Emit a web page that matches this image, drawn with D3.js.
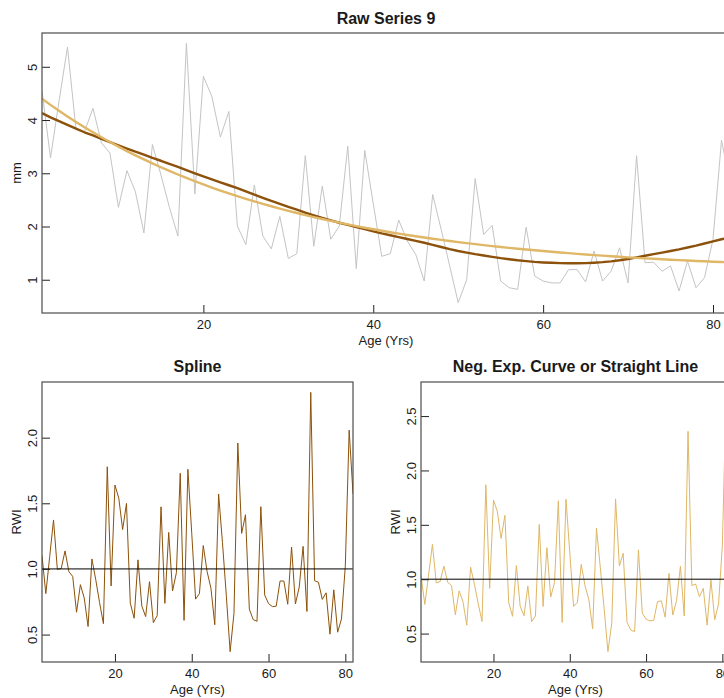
<!DOCTYPE html>
<html>
<head>
<meta charset="utf-8">
<script src="https://cdn.jsdelivr.net/npm/d3@7"></script>
<style>
  html, body { margin: 0; padding: 0; background: #ffffff; }
  svg { display: block; }
  text { font-family: "Liberation Sans", Arial, sans-serif; fill: #1a1a1a; }
</style>
</head>
<body>
<svg id="chart" width="724" height="698"></svg>
<script>
// ---------------- data ----------------
const ages = d3.range(1, 83);

const rawWidth = [4.55,3.29,4.35,5.37,3.83,3.78,4.22,3.57,3.38,2.36,
  3.05,2.65,1.88,3.54,2.97,2.36,1.82,5.44,2.61,4.82,
  4.44,3.68,4.16,2.01,1.66,2.78,1.82,1.58,2.19,1.40,
  1.49,3.33,1.63,2.76,1.76,2.01,3.51,1.21,3.43,2.43,
  1.44,1.49,2.12,1.73,1.475,0.975,2.60,1.94,1.26,0.57,
  1.00,2.90,1.85,2.02,0.975,0.85,0.82,1.99,1.07,0.975,
  0.94,0.94,1.19,1.19,0.96,1.54,0.975,1.16,1.60,0.94,
  3.33,1.32,1.33,1.16,1.26,0.79,1.35,0.85,1.04,1.76,
  3.62,2.83];

const splineCurve = [4.13,4.05,3.98,3.91,3.84,3.77,3.71,3.645,3.585,3.525,
  3.465,3.405,3.35,3.29,3.235,3.175,3.12,3.06,3.00,2.94,
  2.885,2.83,2.775,2.72,2.66,2.60,2.54,2.48,2.425,2.37,
  2.315,2.26,2.21,2.16,2.115,2.07,2.03,1.99,1.95,1.91,
  1.87,1.835,1.80,1.765,1.73,1.695,1.655,1.615,1.575,1.54,
  1.51,1.48,1.455,1.43,1.405,1.385,1.365,1.35,1.335,1.325,
  1.318,1.313,1.31,1.31,1.313,1.32,1.33,1.345,1.365,1.39,
  1.42,1.45,1.48,1.51,1.54,1.57,1.605,1.64,1.68,1.72,
  1.76,1.80];

const negExpCurve = [4.400,4.285,4.174,4.067,3.964,3.865,3.769,3.676,3.587,3.501,
  3.417,3.337,3.260,3.185,3.113,3.044,2.977,2.912,2.850,2.790,
  2.732,2.676,2.622,2.570,2.520,2.471,2.425,2.380,2.336,2.294,
  2.254,2.215,2.177,2.141,2.106,2.072,2.039,2.008,1.977,1.948,
  1.920,1.893,1.867,1.841,1.817,1.793,1.770,1.748,1.727,1.707,
  1.687,1.668,1.650,1.632,1.615,1.599,1.583,1.568,1.553,1.539,
  1.525,1.512,1.499,1.486,1.475,1.463,1.452,1.441,1.431,1.421,
  1.411,1.402,1.393,1.385,1.376,1.368,1.361,1.353,1.346,1.339,
  1.332,1.326];

const splineRWI = [1.102,0.812,1.093,1.373,0.997,1.003,1.137,0.979,0.943,0.670,
  0.880,0.778,0.561,1.076,0.918,0.743,0.583,1.778,0.870,1.639,
  1.539,1.300,1.499,0.739,0.624,1.069,0.717,0.637,0.903,0.591,
  0.644,1.473,0.738,1.278,0.832,0.971,1.729,0.608,1.759,1.272,
  0.770,0.812,1.178,0.980,0.853,0.575,1.571,1.201,0.800,0.370,
  0.662,1.959,1.271,1.413,0.694,0.614,0.601,1.474,0.801,0.736,
  0.713,0.716,0.908,0.908,0.731,1.167,0.733,0.862,1.172,0.676,
  2.345,0.910,0.899,0.768,0.818,0.503,0.841,0.518,0.619,1.023,
  2.057,1.572];

const negExpRWI = [1.034,0.768,1.042,1.320,0.966,0.978,1.120,0.971,0.942,0.674,
  0.893,0.794,0.577,1.111,0.954,0.775,0.611,1.868,0.916,1.728,
  1.625,1.375,1.587,0.782,0.659,1.125,0.751,0.664,0.938,0.610,
  0.661,1.503,0.749,1.289,0.836,0.970,1.721,0.603,1.735,1.247,
  0.750,0.787,1.136,0.940,0.812,0.544,1.469,1.110,0.730,0.334,
  0.593,1.739,1.121,1.238,0.604,0.532,0.518,1.269,0.689,0.634,
  0.616,0.622,0.794,0.801,0.651,1.053,0.671,0.805,1.118,0.662,
  2.360,0.942,0.955,0.838,0.916,0.577,0.992,0.628,0.773,1.314,
  2.718,2.134];

const xTicks = [20, 40, 60, 80];
const rawYTicks = [1, 2, 3, 4, 5];
const splineYTicks = [0.5, 1.0, 1.5, 2.0];
const negExpYTicks = [0.5, 1.0, 1.5, 2.0, 2.5];

const titles = { raw: "Raw Series 9", spline: "Spline", negexp: "Neg. Exp. Curve or Straight Line" };
const xLabel = "Age (Yrs)";
const rawYLabel = "mm";
const rwiYLabel = "RWI";

// ---------------- style ----------------
const colRaw = "#c4c4c4";
const colSpline = "#8c510a";
const colNegExp = "#dfb766";
const colBox = "#4d4d4d";
const FONT = '"Liberation Sans", Arial, sans-serif';
const fs = 13;

const svg = d3.select("#chart");
svg.append("rect").attr("width", 724).attr("height", 698).attr("fill", "#fff");

// R style ylim: range extended by 4%
function rDomain(arrays) {
  const all = [].concat(...arrays);
  const [lo, hi] = d3.extent(all);
  const pad = (hi - lo) * 0.04;
  return [lo - pad, hi + pad];
}

let clipId = 0;
function panel(opts) {
  const { left, right, top, bottom, series, yTicks, yFmt, title, yLabel, hline, titleGap } = opts;
  const x = d3.scaleLinear().domain([1, 82]).range([left, right]);
  const y = d3.scaleLinear().domain(rDomain(series.map(s => s.values))).range([bottom, top]);
  const g = svg.append("g");
  const id = "clip" + (clipId++);
  g.append("clipPath").attr("id", id)
    .append("rect").attr("x", left).attr("y", top).attr("width", right - left).attr("height", bottom - top);
  const inner = g.append("g").attr("clip-path", `url(#${id})`);

  const line = d3.line().x((d, i) => x(ages[i])).y(d => y(d));
  series.forEach(s => {
    inner.append("path").datum(s.values)
      .attr("d", line)
      .attr("fill", "none")
      .attr("stroke", s.color)
      .attr("stroke-width", s.width)
      .attr("stroke-linejoin", "round");
  });
  if (hline !== undefined) {
    inner.append("line")
      .attr("x1", left).attr("x2", right)
      .attr("y1", y(hline)).attr("y2", y(hline))
      .attr("stroke", "#000").attr("stroke-width", 1);
  }

  // x axis (ticks pointing inward)
  const xAxis = d3.axisBottom(x).tickValues(xTicks).tickSize(-8).tickFormat(d3.format("d"));
  const xg = g.append("g").attr("transform", `translate(0,${bottom})`).call(xAxis);
  xg.select(".domain").remove();
  xg.selectAll(".tick line").attr("stroke", "#222");
  xg.selectAll(".tick text")
    .attr("font-size", fs).attr("font-family", FONT).attr("fill", "#222")
    .attr("y", 16).attr("dy", null);

  // y axis (ticks inward, labels parallel to axis)
  const yAxis = d3.axisLeft(y).tickValues(yTicks).tickSize(-8).tickFormat(yFmt);
  const yg = g.append("g").attr("transform", `translate(${left},0)`).call(yAxis);
  yg.select(".domain").remove();
  yg.selectAll(".tick line").attr("stroke", "#222");
  yg.selectAll(".tick text")
    .attr("font-size", fs).attr("font-family", FONT).attr("fill", "#222")
    .attr("x", null).attr("dy", null)
    .attr("text-anchor", "middle")
    .attr("transform", "translate(-5,0) rotate(-90)");

  // box
  g.append("rect").attr("x", left).attr("y", top)
    .attr("width", right - left).attr("height", bottom - top)
    .attr("fill", "none").attr("stroke", colBox).attr("stroke-width", 1.2);

  // titles and labels
  svg.append("text").attr("x", (left + right) / 2).attr("y", top - titleGap)
    .attr("text-anchor", "middle").attr("font-weight", "bold").attr("font-size", 16)
    .text(title);
  svg.append("text").attr("x", (left + right) / 2).attr("y", bottom + 32)
    .attr("text-anchor", "middle").attr("font-size", fs).text(xLabel);
  svg.append("text")
    .attr("transform", `translate(${left - 21},${(top + bottom) / 2}) rotate(-90)`)
    .attr("text-anchor", "middle").attr("font-size", fs).text(yLabel);
}

panel({
  left: 42, right: 730, top: 33, bottom: 313, titleGap: 9,
  series: [
    { values: rawWidth, color: colRaw, width: 1 },
    { values: splineCurve, color: colSpline, width: 2.4 },
    { values: negExpCurve, color: colNegExp, width: 2.4 }
  ],
  yTicks: rawYTicks, yFmt: d3.format("d"), title: titles.raw, yLabel: rawYLabel
});

panel({
  left: 42, right: 353, top: 382, bottom: 662, titleGap: 10,
  series: [{ values: splineRWI, color: colSpline, width: 1 }],
  yTicks: splineYTicks, yFmt: d3.format(".1f"), title: titles.spline, yLabel: rwiYLabel, hline: 1
});

panel({
  left: 421, right: 730, top: 382, bottom: 662, titleGap: 10,
  series: [{ values: negExpRWI, color: colNegExp, width: 1 }],
  yTicks: negExpYTicks, yFmt: d3.format(".1f"), title: titles.negexp, yLabel: rwiYLabel, hline: 1
});
</script>
</body>
</html>
